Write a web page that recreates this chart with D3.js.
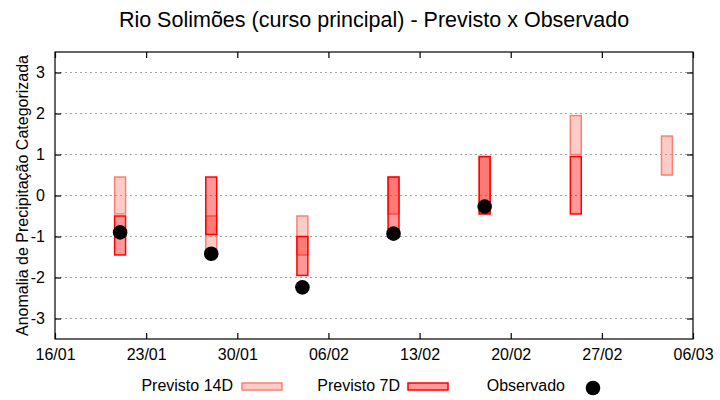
<!DOCTYPE html>
<html><head><meta charset="utf-8">
<script src="https://cdn.jsdelivr.net/npm/d3@7"></script>
<style>body{margin:0;background:#fff}svg{display:block;font-family:"Liberation Sans",Arial,sans-serif}</style>
</head><body><svg id="c" width="720" height="400"></svg>
<script>
const dates = ["2023-01-21","2023-01-28","2023-02-04","2023-02-11","2023-02-18","2023-02-25","2023-03-04"];
const prev14Low  = [-0.45, -1.45, -1.45, -0.45, -0.45, 1.0, 0.5];
const prev14High = [ 0.45, -0.5, -0.5, 0.45, 0.95, 1.95, 1.45];
const prev7Low   = [-1.45, -0.95, -1.95, -0.95, -0.45, -0.45, null];
const prev7High  = [-0.5, 0.45, -1.0, 0.45, 0.95, 0.95, null];
const observed   = [-0.9, -1.42, -2.24, -0.93, -0.27, null, null];
const xTickDates = ["2023-01-16","2023-01-23","2023-01-30","2023-02-06","2023-02-13","2023-02-20","2023-02-27","2023-03-06"];
const yTicks = [-3,-2,-1,0,1,2,3];
const title = "Rio Solimões (curso principal) - Previsto x Observado";
const yLabel = "Anomalia de Precipitação Categorizada";

const parse = d3.utcParse("%Y-%m-%d");
const fmt = d3.utcFormat("%d/%m");
const svg = d3.select("#c");
const L=55, R=693, T=52, B=339;
const x = d3.scaleUtc().domain([parse(xTickDates[0]), parse(xTickDates[xTickDates.length-1])]).range([L,R]);
const y = d3.scaleLinear().domain([-3.5,3.5]).range([B,T]);
const day = 86400000;
const halfW = 0.42*day;

// grid
svg.append("g").selectAll("line").data(yTicks).join("line")
  .attr("x1",L).attr("x2",R).attr("y1",d=>y(d)).attr("y2",d=>y(d))
  .attr("stroke","#a0a0a0").attr("stroke-width",1).attr("stroke-dasharray","2,3");

// axes
const ax = g => g.selectAll(".domain").remove();
svg.append("g").attr("transform",`translate(0,${B})`)
  .call(d3.axisBottom(x).tickValues(xTickDates.map(parse)).tickFormat(fmt).tickSizeInner(-6).tickSizeOuter(0).tickPadding(10))
  .call(ax).call(g=>g.selectAll("text").attr("font-size",16).attr("fill","#000").attr("font-family","Liberation Sans, Arial"));
svg.append("g").attr("transform",`translate(0,${T})`)
  .call(d3.axisTop(x).tickValues(xTickDates.map(parse)).tickFormat("").tickSizeInner(-6).tickSizeOuter(0))
  .call(ax);
svg.append("g").attr("transform",`translate(${L},0)`)
  .call(d3.axisLeft(y).tickValues(yTicks).tickFormat(d=>String(d)).tickSizeInner(-6).tickSizeOuter(0).tickPadding(10))
  .call(ax).call(g=>g.selectAll("text").attr("font-size",16).attr("fill","#000").attr("font-family","Liberation Sans, Arial"));
svg.append("g").attr("transform",`translate(${R},0)`)
  .call(d3.axisRight(y).tickValues(yTicks).tickFormat("").tickSizeInner(-6).tickSizeOuter(0))
  .call(ax);
svg.selectAll(".tick line").attr("stroke","#000").attr("stroke-width",1.2);

const data = dates.map((d,i)=>({d:parse(d), l14:prev14Low[i], h14:prev14High[i], l7:prev7Low[i], h7:prev7High[i], o:observed[i]}));

// 14D boxes
svg.append("g").selectAll("rect").data(data.filter(d=>d.l14!=null)).join("rect")
  .attr("x",d=>x(new Date(+d.d-halfW))).attr("width",d=>x(new Date(+d.d+halfW))-x(new Date(+d.d-halfW)))
  .attr("y",d=>y(d.h14)).attr("height",d=>y(d.l14)-y(d.h14))
  .attr("fill","rgb(250,128,114)").attr("fill-opacity",0.4).attr("stroke","rgb(250,128,114)").attr("stroke-width",1.5);
// 7D boxes
svg.append("g").selectAll("rect").data(data.filter(d=>d.l7!=null)).join("rect")
  .attr("x",d=>x(new Date(+d.d-halfW))).attr("width",d=>x(new Date(+d.d+halfW))-x(new Date(+d.d-halfW)))
  .attr("y",d=>y(d.h7)).attr("height",d=>y(d.l7)-y(d.h7))
  .attr("fill","rgb(255,0,0)").attr("fill-opacity",0.4).attr("stroke","rgb(255,0,0)").attr("stroke-width",1.5);
// observed
svg.append("g").selectAll("circle").data(data.filter(d=>d.o!=null)).join("circle")
  .attr("cx",d=>x(d.d)).attr("cy",d=>y(d.o)).attr("r",7.3).attr("fill","#000");

// frame
svg.append("rect").attr("x",L).attr("y",T).attr("width",R-L).attr("height",B-T)
  .attr("fill","none").attr("stroke","#000").attr("stroke-width",1.2);

// title
svg.append("text").attr("x",(L+R)/2).attr("y",27).attr("text-anchor","middle")
  .attr("font-size",21.5).text(title);
svg.append("text").attr("transform",`translate(28,${(T+B)/2}) rotate(-90)`).attr("text-anchor","middle")
  .attr("font-size",16).text(yLabel);

// legend
const lg = svg.append("g").attr("font-size",16);
lg.append("text").attr("x",233).attr("y",391).attr("text-anchor","end").text("Previsto 14D");
lg.append("rect").attr("x",242).attr("y",383).attr("width",40).attr("height",7)
  .attr("fill","rgb(250,128,114)").attr("fill-opacity",0.4).attr("stroke","rgb(250,128,114)").attr("stroke-width",1.5);
lg.append("text").attr("x",400).attr("y",391).attr("text-anchor","end").text("Previsto 7D");
lg.append("rect").attr("x",408).attr("y",383).attr("width",40).attr("height",7)
  .attr("fill","rgb(255,0,0)").attr("fill-opacity",0.4).attr("stroke","rgb(255,0,0)").attr("stroke-width",1.5);
lg.append("text").attr("x",565).attr("y",391).attr("text-anchor","end").text("Observado");
lg.append("circle").attr("cx",593).attr("cy",388).attr("r",7.3).attr("fill","#000");
</script></body></html>
